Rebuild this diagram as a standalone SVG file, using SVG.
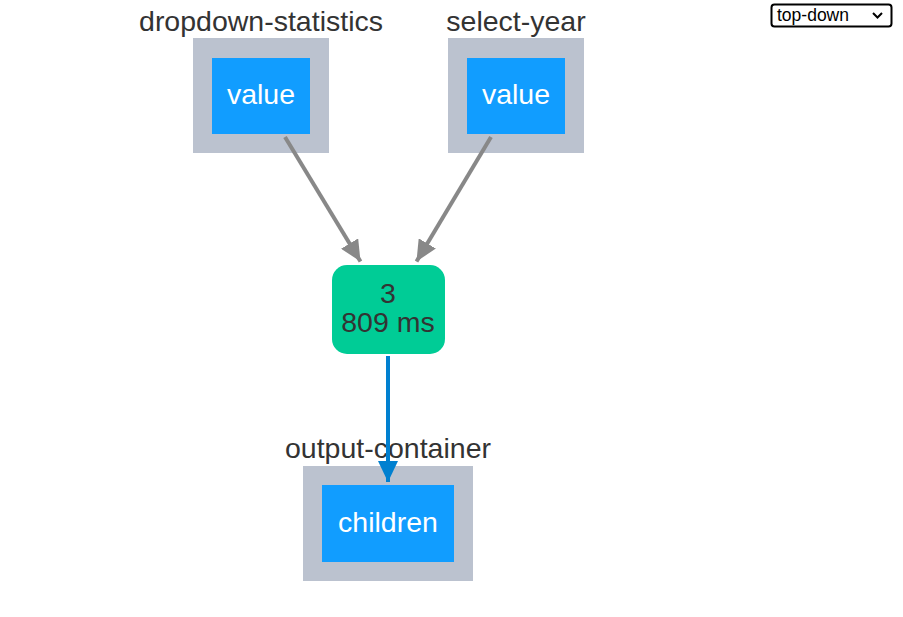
<svg xmlns="http://www.w3.org/2000/svg" width="903" height="617" viewBox="0 0 903 617">
<style>
.lbl{font-family:"Liberation Sans",Arial,sans-serif;font-size:28.5px;fill:#333333;text-anchor:middle}
.prop{font-family:"Liberation Sans",Arial,sans-serif;font-size:28.5px;fill:#ffffff;text-anchor:middle}
.outer{fill:#bbc2cf}
.inner{fill:#119dff}
.cb{font-family:"Liberation Sans",Arial,sans-serif;font-size:28.5px;fill:#333333;text-anchor:middle}
.e-in{stroke:#888888;stroke-width:4;fill:none}
.e-out{stroke:#0080d0;stroke-width:4;fill:none}
</style>
<defs>
<marker id="ag" markerUnits="userSpaceOnUse" markerWidth="22" markerHeight="20" refX="21" refY="10" orient="auto">
<path d="M0,0 L21,10 L0,20 Z" fill="#888888"/>
</marker>
<marker id="ab" markerUnits="userSpaceOnUse" markerWidth="22" markerHeight="20" refX="21" refY="10" orient="auto">
<path d="M0,0 L21,10 L0,20 Z" fill="#0080d0"/>
</marker>
</defs>
<rect width="903" height="617" fill="#ffffff"/>
<g id="dropdown-statistics">
<text class="lbl" x="261" y="31">dropdown-statistics</text>
<rect class="outer" x="193" y="38" width="136" height="115"/>
<rect class="inner" x="212" y="58" width="98" height="76"/>
<text class="prop" x="261" y="104">value</text>
</g>
<g id="select-year">
<text class="lbl" x="516" y="31">select-year</text>
<rect class="outer" x="448" y="38" width="136" height="115"/>
<rect class="inner" x="467" y="58" width="98" height="76"/>
<text class="prop" x="516" y="104">value</text>
</g>
<g id="callback">
<rect x="332" y="265" width="113" height="89" rx="15" ry="15" fill="#00cc96"/>
<text class="cb" x="388" y="303">3</text>
<text class="cb" x="388" y="332">809 ms</text>
</g>
<g id="output-container">
<text class="lbl" x="388" y="458">output-container</text>
<rect class="outer" x="303" y="466" width="170" height="115"/>
<rect class="inner" x="322" y="485" width="132" height="77"/>
<text class="prop" x="388" y="532">children</text>
</g>
<g id="connectors">
<line class="e-in" x1="285" y1="137" x2="360.5" y2="261.5" marker-end="url(#ag)"/>
<line class="e-in" x1="491" y1="137" x2="416.5" y2="261.5" marker-end="url(#ag)"/>
<line class="e-out" x1="388" y1="356" x2="388" y2="482" marker-end="url(#ab)"/>
</g>
<g id="layout-select">
<rect x="771.5" y="4.5" width="120" height="22" rx="3" ry="3" fill="#ffffff" stroke="#000000" stroke-width="2"/>
<text x="777" y="21" font-family="'Liberation Sans',Arial,sans-serif" font-size="17.5" fill="#000000">top-down</text>
<path d="M873,13 L877.5,17.5 L882,13" fill="none" stroke="#000000" stroke-width="2"/>
</g>
</svg>
